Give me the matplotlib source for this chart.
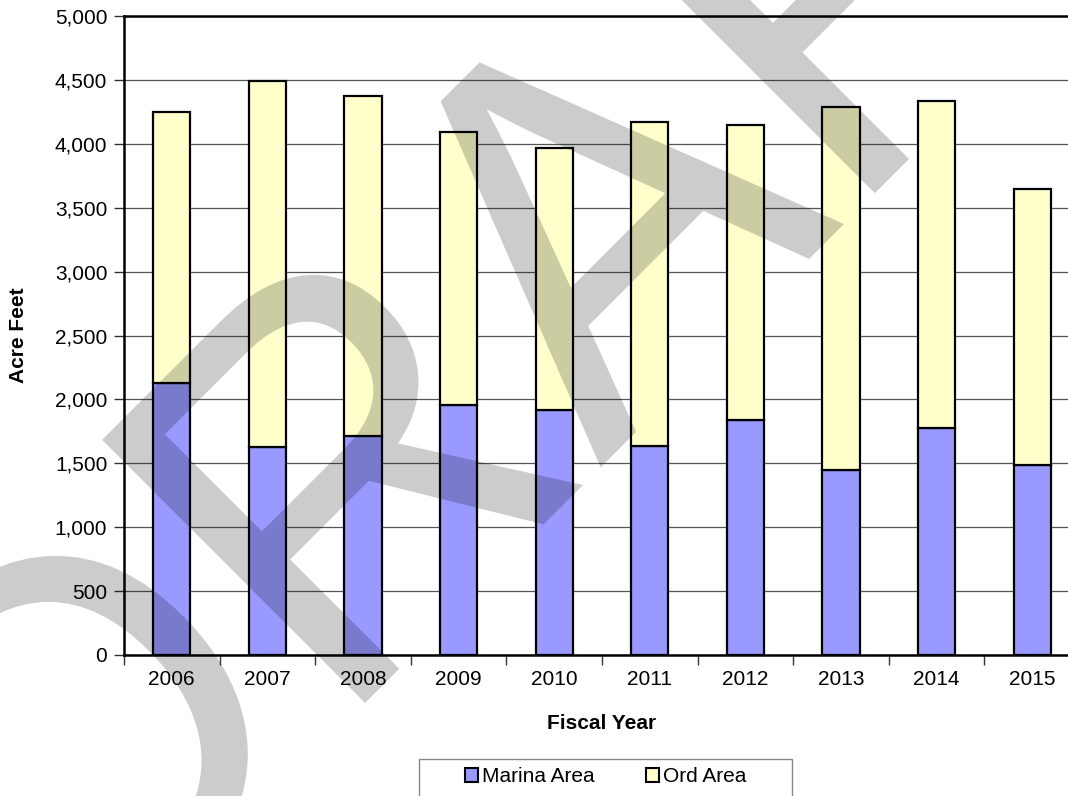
import matplotlib
matplotlib.use("Agg")
import matplotlib.pyplot as plt
import numpy as np
from matplotlib.patches import Patch, PathPatch, Rectangle
from matplotlib.path import Path
from matplotlib.textpath import TextPath
from matplotlib.font_manager import FontProperties
from matplotlib.transforms import Affine2D
from matplotlib.ticker import FuncFormatter, MultipleLocator

plt.rcParams['font.family'] = ['Liberation Sans', 'DejaVu Sans']

years = ['2006', '2007', '2008', '2009', '2010', '2011', '2012', '2013', '2014', '2015']
marina_area = [2130, 1630, 1710, 1960, 1915, 1635, 1835, 1450, 1775, 1490]
ord_area = [2116, 2864, 2664, 2135, 2055, 2533, 2312, 2835, 2562, 2154]

marina_color = '#9999FF'
ord_color = '#FFFFCC'

fig = plt.figure(figsize=(10.68, 7.96), dpi=100)
ax = fig.add_axes([124 / 1068, 141 / 796, 956 / 1068, 639 / 796])

x = np.arange(len(years))
ax.bar(x, marina_area, width=0.39, color=marina_color, edgecolor='black',
       linewidth=1.6, zorder=3, label='Marina Area')
ax.bar(x, ord_area, width=0.39, bottom=marina_area, color=ord_color,
       edgecolor='black', linewidth=1.6, zorder=3, label='Ord Area')

ax.set_xlim(-0.5, len(years) - 0.5)
ax.set_ylim(0, 5000)
ax.yaxis.set_major_locator(MultipleLocator(500))
ax.yaxis.set_major_formatter(FuncFormatter(lambda v, p: f'{int(v):,}'))
ax.grid(axis='y', color='#555555', linewidth=0.9, zorder=0)

ax.set_xticks(x)
ax.set_xticklabels(years)
ax.set_xticks(np.arange(len(years) + 1) - 0.5, minor=True)
ax.tick_params(axis='x', which='major', length=0, pad=11, labelsize=15)
ax.tick_params(axis='x', which='minor', length=7, width=1, direction='out', color='#333333')
ax.tick_params(axis='y', length=7, width=1, direction='out', labelsize=15, pad=5, color='#333333')

for side in ['left', 'top', 'bottom', 'right']:
    ax.spines[side].set_linewidth(1.8)
    ax.spines[side].set_color('black')

ax.set_xlabel('Fiscal Year', fontsize=15, fontweight='bold', labelpad=18)
ax.set_ylabel('Acre Feet', fontsize=15, fontweight='bold', labelpad=19)

# legend box (runs off the bottom edge of the picture)
fig.add_artist(Rectangle((419, 796 - 759 - 60), 373, 60, transform=None,
                         facecolor='white', edgecolor='#888888', linewidth=1.0, zorder=5))
handles = [Patch(facecolor=marina_color, edgecolor='black', linewidth=1.5, label='Marina Area'),
           Patch(facecolor=ord_color, edgecolor='black', linewidth=1.5, label='Ord Area')]
leg = fig.legend(handles=handles, loc='center', bbox_to_anchor=(606 / 1068, 1 - 777 / 796),
                 ncol=2, fontsize=15, frameon=False, handlelength=0.62,
                 handleheight=0.62, handletextpad=0.2, columnspacing=2.45,
                 borderpad=0, borderaxespad=0)
leg.set_zorder(6)

# DRAFT watermark, 45 degrees, drawn over everything
fp = FontProperties(family='Liberation Sans')
advances = [0.722, 0.722, 0.667, 0.611, 0.611]
paths = []
pos = 0.0
for ch, adv in zip('DRAFT', advances):
    paths.append(TextPath((pos, 0), ch, size=1, prop=fp))
    pos += adv
wm = Path.make_compound_path(*paths)
cap = TextPath((0, 0), 'H', size=1, prop=fp).get_extents().ymax
wm_tr = Affine2D().scale(519, 372 / cap).rotate_deg(45).translate(70, -202)
wm_patch = PathPatch(wm_tr.transform_path(wm), facecolor=(0, 0, 0, 0.2),
                     edgecolor='none', transform=None, zorder=20)
fig.add_artist(wm_patch)

fig.savefig('out.png', dpi=100)
